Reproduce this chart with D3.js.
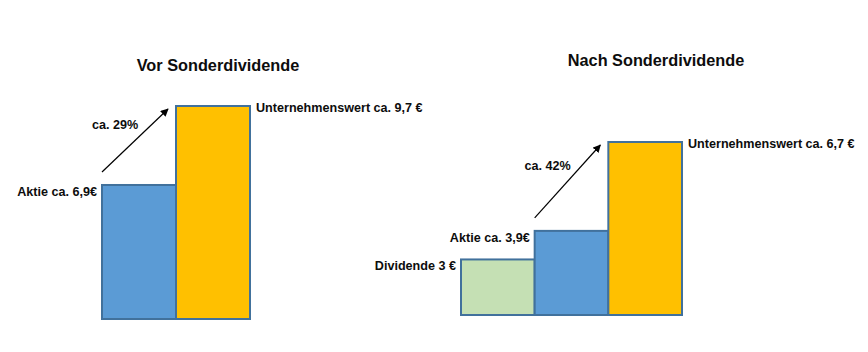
<!DOCTYPE html>
<html>
<head>
<meta charset="utf-8">
<script src="https://cdn.jsdelivr.net/npm/d3@7"></script>
<style>
  body { margin: 0; background: #fff; }
  svg text { font-family: "Liberation Sans", Arial, sans-serif; font-weight: bold; fill: #0d0d0d; }
</style>
</head>
<body>
<div id="chart"></div>
<script>
// ── Data ───────────────────────────────────────────────────────────────
const panelTitles = ["Vor Sonderdividende", "Nach Sonderdividende"];

const vorCategories = ["Aktie", "Unternehmenswert"];
const vorValues = [6.9, 9.7];
const vorLabels = ["Aktie ca. 6,9€", "Unternehmenswert ca. 9,7 €"];

const nachCategories = ["Dividende", "Aktie", "Unternehmenswert"];
const nachValues = [3, 3.9, 6.7];
const nachLabels = ["Dividende 3 €", "Aktie ca. 3,9€", "Unternehmenswert ca. 6,7 €"];

const growthLabels = ["ca. 29%", "ca. 42%"];

// ── Setup ──────────────────────────────────────────────────────────────
const W = 868, H = 352;
const svg = d3.select("#chart").append("svg").attr("width", W).attr("height", H);

svg.append("defs").append("marker")
  .attr("id", "arrow")
  .attr("viewBox", "0 0 10 10")
  .attr("refX", 9).attr("refY", 5)
  .attr("markerWidth", 8).attr("markerHeight", 8)
  .attr("markerUnits", "userSpaceOnUse")
  .attr("orient", "auto")
  .append("path").attr("d", "M0,0 L10,5 L0,10 Z").attr("fill", "#000");

const color = d3.scaleOrdinal()
  .domain(["Dividende", "Aktie", "Unternehmenswert"])
  .range(["#C5E0B4", "#5B9BD5", "#FFC000"]);

// panel layout (schematic diagram, no axes)
const panels = [
  {
    title: panelTitles[0], cats: vorCategories, vals: vorValues, labels: vorLabels,
    growth: growthLabels[0], xRange: [102, 250], yDomain: [2.15, 9.7], yRange: [319, 106],
    titleX: 218, titleY: 71,
  },
  {
    title: panelTitles[1], cats: nachCategories, vals: nachValues, labels: nachLabels,
    growth: growthLabels[1], xRange: [461, 682], yDomain: [1.25, 6.7], yRange: [315, 142],
    titleX: 656, titleY: 66,
  },
];

panels.forEach((p) => {
  const rows = p.cats.map((c, i) => ({ cat: c, val: p.vals[i], label: p.labels[i], i }));
  const x = d3.scaleBand().domain(d3.range(rows.length)).range(p.xRange).padding(0);
  const y = d3.scaleLinear().domain(p.yDomain).range(p.yRange);
  const g = svg.append("g");

  // title
  g.append("text")
    .attr("x", p.titleX).attr("y", p.titleY)
    .attr("text-anchor", "middle")
    .style("font-size", "16.3px")
    .text(p.title);

  // bars
  g.selectAll("rect")
    .data(rows)
    .join("rect")
    .attr("x", (d) => x(d.i))
    .attr("y", (d) => y(d.val))
    .attr("width", x.bandwidth())
    .attr("height", (d) => y.range()[0] - y(d.val))
    .attr("fill", (d) => color(d.cat))
    .attr("stroke", "#41719C")
    .attr("stroke-width", 2);

  // value labels
  const last = rows.length - 1;
  g.selectAll("text.lbl")
    .data(rows)
    .join("text")
    .attr("class", "lbl")
    .style("font-size", "12.6px")
    .attr("x", (d) => (d.i === last ? x(d.i) + x.bandwidth() + 6 : x(d.i) - 5))
    .attr("y", (d) => y(d.val) + (d.i === last ? 6 : 11))
    .attr("text-anchor", (d) => (d.i === last ? "start" : "end"))
    .text((d) => d.label);

  // growth arrow from Aktie bar to Unternehmenswert bar
  const a = rows.find((r) => r.cat === "Aktie");
  const u = rows[last];
  const x1 = x(a.i), y1 = y(a.val) - 13;
  const x2 = x(u.i) - 8, y2 = y(u.val) + 3;
  g.append("line")
    .attr("x1", x1).attr("y1", y1)
    .attr("x2", x2).attr("y2", y2)
    .attr("stroke", "#000").attr("stroke-width", 1.2)
    .attr("marker-end", "url(#arrow)");

  g.append("text")
    .attr("x", (x1 + x2) / 2 - 20)
    .attr("y", (y1 + y2) / 2 - 11)
    .attr("text-anchor", "middle")
    .style("font-size", "12.6px")
    .text(p.growth);
});
</script>
</body>
</html>
